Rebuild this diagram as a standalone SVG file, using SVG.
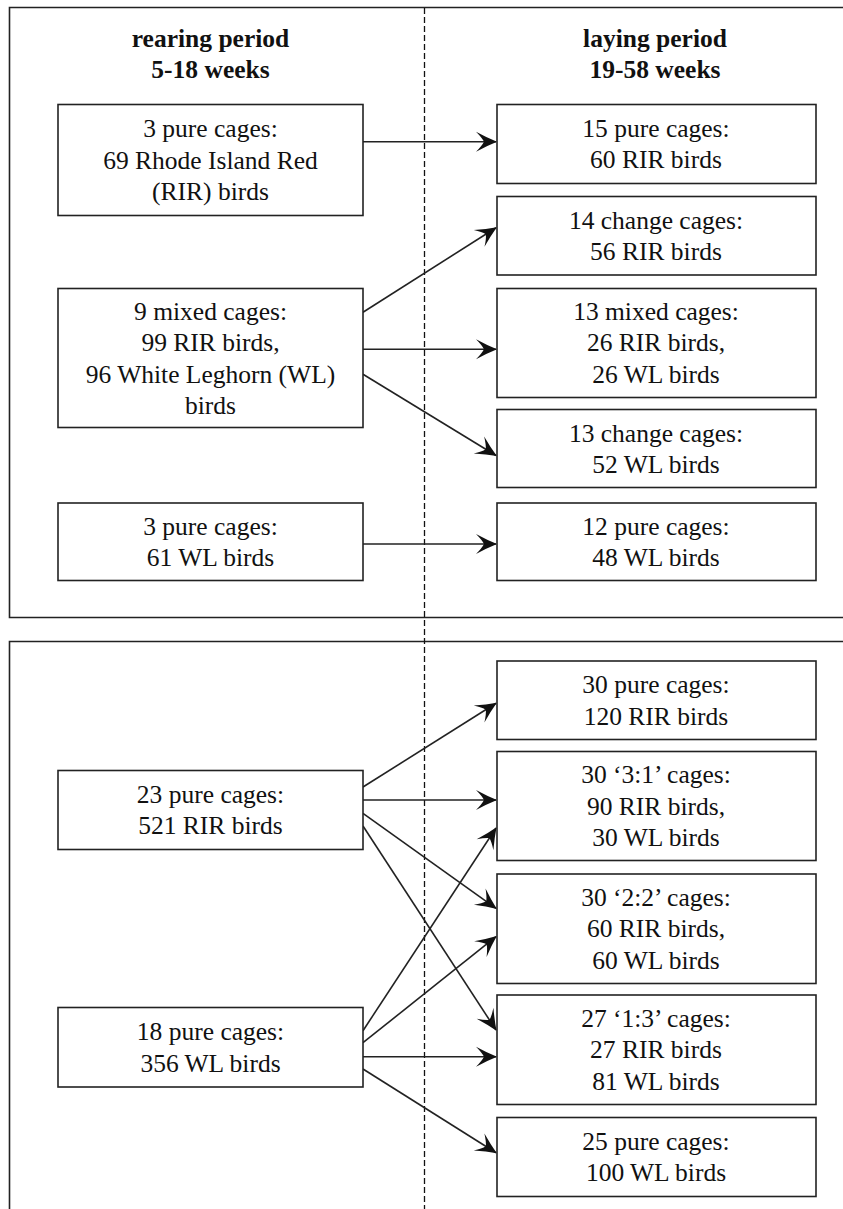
<svg xmlns="http://www.w3.org/2000/svg" width="843" height="1209" viewBox="0 0 843 1209">
<style>
.panel{fill:none;stroke:#222;stroke-width:1.6}
.div{fill:none;stroke:#111;stroke-width:1.3;stroke-dasharray:6 3}
.box{fill:#fff;stroke:#222;stroke-width:1.6}
.t{font-family:'Liberation Serif','DejaVu Serif',serif;font-weight:normal;font-size:25.5px;fill:#111;text-anchor:middle}
.h{font-family:'Liberation Serif','DejaVu Serif',serif;font-size:25.5px;font-weight:bold;fill:#111;text-anchor:middle}
.c{fill:none;stroke:#222;stroke-width:1.6;marker-end:url(#ah)}
</style>
<defs>
<marker id="ah" markerUnits="userSpaceOnUse" markerWidth="24" markerHeight="24" viewBox="-22 -12 24 24" refX="0" refY="0" orient="auto">
<path d="M1,0 Q-9,-4 -20,-10 Q-14,-4 -12,0 Q-14,4 -20,10 Q-9,4 1,0 Z" fill="#111"/>
</marker>
</defs>
<rect width="843" height="1209" fill="#fff"/>
<g id="panels">
<path class="panel" d="M845,7.5 H9.5 V617.5 H845"/>
<path class="panel" d="M845,641.5 H9.5 V1212"/>
<line class="div" x1="424.5" y1="8" x2="424.5" y2="1209"/>
</g>
<g id="headers">
<text class="h" x="210.5" y="46.7">rearing period</text>
<text class="h" x="210.5" y="77.7">5-18 weeks</text>
<text class="h" x="655" y="46.7">laying period</text>
<text class="h" x="655" y="77.7">19-58 weeks</text>
</g>
<g id="connectors">
<line class="c" x1="363" y1="141.7" x2="496" y2="141.7"/>
<line class="c" x1="363" y1="312.3" x2="496" y2="227.7"/>
<line class="c" x1="363" y1="349.3" x2="496" y2="349.3"/>
<line class="c" x1="363" y1="374.3" x2="496" y2="455.5"/>
<line class="c" x1="363" y1="544" x2="496" y2="544"/>
<line class="c" x1="363" y1="787" x2="496" y2="703.3"/>
<line class="c" x1="363" y1="800" x2="496" y2="800"/>
<line class="c" x1="363" y1="813.3" x2="496" y2="908.3"/>
<line class="c" x1="363" y1="826" x2="496" y2="1030"/>
<line class="c" x1="363" y1="1030.7" x2="496" y2="828"/>
<line class="c" x1="363" y1="1042.7" x2="496" y2="936.7"/>
<line class="c" x1="363" y1="1056.7" x2="496" y2="1056.7"/>
<line class="c" x1="363" y1="1069" x2="496" y2="1152.7"/>
</g>
<g id="L1"><rect class="box" x="58" y="104.5" width="305" height="111"/>
<text class="t" x="210.5" y="137">3 pure cages:</text>
<text class="t" x="210.5" y="168.5">69 Rhode Island Red</text>
<text class="t" x="210.5" y="200">(RIR) birds</text></g>
<g id="L2"><rect class="box" x="58" y="288.5" width="305" height="139"/>
<text class="t" x="210.5" y="319.5">9 mixed cages:</text>
<text class="t" x="210.5" y="351">99 RIR birds,</text>
<text class="t" x="210.5" y="382.5">96 White Leghorn (WL)</text>
<text class="t" x="210.5" y="414">birds</text></g>
<g id="L3"><rect class="box" x="58" y="503" width="305" height="77.5"/>
<text class="t" x="210.5" y="534.5">3 pure cages:</text>
<text class="t" x="210.5" y="566">61 WL birds</text></g>
<g id="R1"><rect class="box" x="497" y="104.5" width="319" height="79"/>
<text class="t" x="656" y="136.8">15 pure cages:</text>
<text class="t" x="656" y="168.3">60 RIR birds</text></g>
<g id="R2"><rect class="box" x="497" y="196.5" width="319" height="78.5"/>
<text class="t" x="656" y="228.8">14 change cages:</text>
<text class="t" x="656" y="260.3">56 RIR birds</text></g>
<g id="R3"><rect class="box" x="497" y="288.5" width="319" height="109"/>
<text class="t" x="656" y="319.8">13 mixed cages:</text>
<text class="t" x="656" y="351.3">26 RIR birds,</text>
<text class="t" x="656" y="382.8">26 WL birds</text></g>
<g id="R4"><rect class="box" x="497" y="409.5" width="319" height="78"/>
<text class="t" x="656" y="441.5">13 change cages:</text>
<text class="t" x="656" y="473">52 WL birds</text></g>
<g id="R5"><rect class="box" x="497" y="503" width="319" height="77.5"/>
<text class="t" x="656" y="534.5">12 pure cages:</text>
<text class="t" x="656" y="566">48 WL birds</text></g>
<g id="A"><rect class="box" x="58" y="770.5" width="305" height="79"/>
<text class="t" x="210.5" y="802.8">23 pure cages:</text>
<text class="t" x="210.5" y="834.3">521 RIR birds</text></g>
<g id="B"><rect class="box" x="58" y="1007.5" width="305" height="79.5"/>
<text class="t" x="210.5" y="1040">18 pure cages:</text>
<text class="t" x="210.5" y="1071.5">356 WL birds</text></g>
<g id="S1"><rect class="box" x="497" y="661" width="319" height="78.5"/>
<text class="t" x="656" y="693">30 pure cages:</text>
<text class="t" x="656" y="724.5">120 RIR birds</text></g>
<g id="S2"><rect class="box" x="497" y="751.5" width="319" height="109"/>
<text class="t" x="656" y="783">30 ‘3:1’ cages:</text>
<text class="t" x="656" y="814.5">90 RIR birds,</text>
<text class="t" x="656" y="846">30 WL birds</text></g>
<g id="S3"><rect class="box" x="497" y="874" width="319" height="109.5"/>
<text class="t" x="656" y="905.5">30 ‘2:2’ cages:</text>
<text class="t" x="656" y="937">60 RIR birds,</text>
<text class="t" x="656" y="968.5">60 WL birds</text></g>
<g id="S4"><rect class="box" x="497" y="995" width="319" height="109.5"/>
<text class="t" x="656" y="1026.5">27 ‘1:3’ cages:</text>
<text class="t" x="656" y="1058">27 RIR birds</text>
<text class="t" x="656" y="1089.5">81 WL birds</text></g>
<g id="S5"><rect class="box" x="497" y="1117.5" width="319" height="79"/>
<text class="t" x="656" y="1149.8">25 pure cages:</text>
<text class="t" x="656" y="1181.3">100 WL birds</text></g>
</svg>
